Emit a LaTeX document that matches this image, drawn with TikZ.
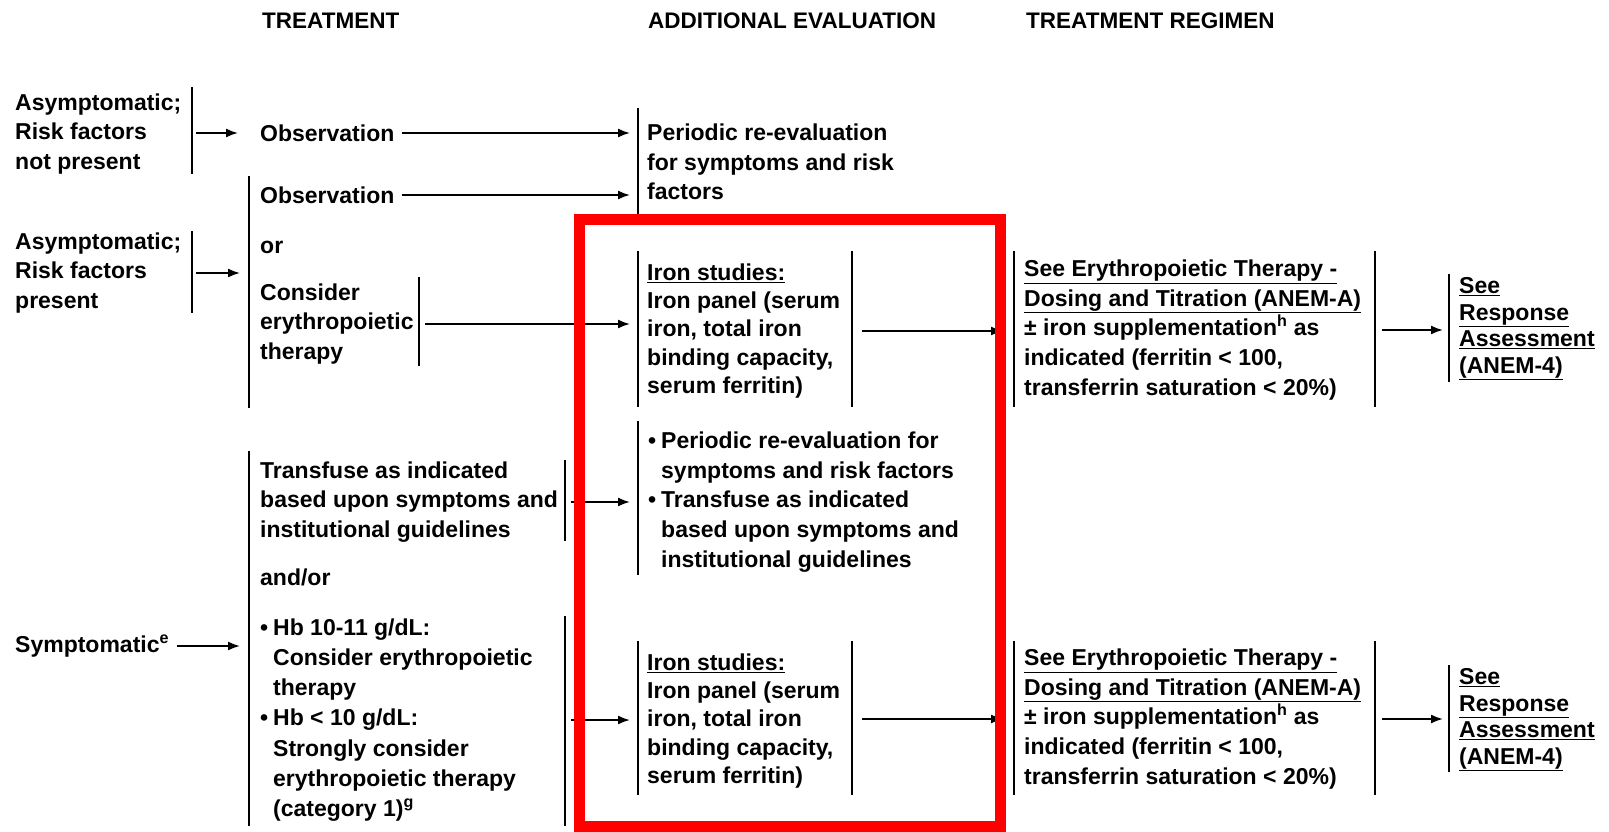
\documentclass[tikz,border=0pt]{standalone}
\usepackage{fontspec}
\setmainfont{Liberation Sans}
\usetikzlibrary{arrows.meta}
\begin{document}
\begin{tikzpicture}[x=1pt,y=-1pt,
  txt/.style={anchor=west,inner sep=0pt,align=left,font=\fontsize{23}{29.6}\selectfont\bfseries},
  wide/.style={txt,font=\fontsize{23}{30.2}\selectfont\bfseries},
  tight/.style={txt,font=\fontsize{23}{28.2}\selectfont\bfseries},
  seebox/.style={txt,font=\fontsize{23}{26.5}\selectfont\bfseries},
  hdr/.style={anchor=west,inner sep=0pt,font=\fontsize{22.5}{26}\selectfont\bfseries},
  brk/.style={line width=2pt},
  arr/.style={line width=1.8pt,-{Latex[length=12pt,width=9pt]}},
  redbox/.style={draw={rgb,255:red,255;green,0;blue,0},line width=11pt}]
\useasboundingbox (0,0) rectangle (1609,832);
\newcommand{\bl}{\makebox[13pt][l]{\textbullet}}
\newcommand{\ind}{\hspace*{13pt}}

% headers
\node[hdr] (h1) at (262,21) {TREATMENT};
\node[hdr] (h2) at (648,21) {ADDITIONAL EVALUATION};
\node[hdr] (h3) at (1026,21) {TREATMENT REGIMEN};

% text nodes
\node[txt] (a1) at (15,134) {Asymptomatic;\\Risk factors\\not present};
\node[txt] (obs1) at (260,133) {Observation};
\node[txt] (per) at (647,162) {Periodic re-evaluation\\for symptoms and risk\\factors};
\node[txt] (a2) at (15,273) {Asymptomatic;\\Risk factors\\present};
\node[txt] (obs2) at (260,195) {Observation};
\node[txt] (or) at (260,247) {or};
\node[txt] (cons) at (260,324) {Consider\\erythropoietic\\therapy};
\node[tight] (iron1) at (647,331) {\underline{Iron studies:}\\Iron panel (serum\\iron, total iron\\binding capacity,\\serum ferritin)};
\node[txt] (epo1) at (1024,330) {\underline{See Erythropoietic Therapy -}\\\underline{Dosing and Titration (ANEM-A)}\\± iron supplementation\textsuperscript{h} as\\indicated (ferritin < 100,\\transferrin saturation < 20\%)};
\node[seebox] (see1) at (1459,329) {\underline{See}\\\underline{Response}\\\underline{Assessment}\\\underline{(ANEM-4)}};

\node[txt] (trans) at (260,502) {Transfuse as indicated\\based upon symptoms and\\institutional guidelines};
\node[txt] (andor) at (260,577) {and/or};
\node[wide] (hb) at (260,720) {\bl Hb 10-11 g/dL:\\\ind Consider erythropoietic\\\ind therapy\\\bl Hb < 10 g/dL:\\\ind Strongly consider\\\ind erythropoietic therapy\\\ind (category 1)\textsuperscript{g}};
\node[txt] (symp) at (15,646) {Symptomatic\textsuperscript{e}};
\node[txt] (mid) at (648,502) {\bl Periodic re-evaluation for\\\ind symptoms and risk factors\\\bl Transfuse as indicated\\\ind based upon symptoms and\\\ind institutional guidelines};
\node[tight] (iron2) at (647,721) {\underline{Iron studies:}\\Iron panel (serum\\iron, total iron\\binding capacity,\\serum ferritin)};
\node[txt] (epo2) at (1024,719) {\underline{See Erythropoietic Therapy -}\\\underline{Dosing and Titration (ANEM-A)}\\± iron supplementation\textsuperscript{h} as\\indicated (ferritin < 100,\\transferrin saturation < 20\%)};
\node[seebox] (see2) at (1459,720) {\underline{See}\\\underline{Response}\\\underline{Assessment}\\\underline{(ANEM-4)}};

% bracket coordinates
\coordinate (a1T) at (192,87);   \coordinate (a1B) at (192,174);
\coordinate (a2T) at (192,231);  \coordinate (a2B) at (192,313);
\coordinate (big1T) at (249,176); \coordinate (big1B) at (249,408);
\coordinate (consT) at (419,277); \coordinate (consB) at (419,366);
\coordinate (perT) at (638,108); \coordinate (perB) at (638,216);
\coordinate (ir1LT) at (638,251); \coordinate (ir1LB) at (638,407);
\coordinate (ir1RT) at (852,251); \coordinate (ir1RB) at (852,407);
\coordinate (ep1LT) at (1014,251); \coordinate (ep1LB) at (1014,407);
\coordinate (ep1RT) at (1375,251); \coordinate (ep1RB) at (1375,407);
\coordinate (se1T) at (1449,274); \coordinate (se1B) at (1449,382);
\coordinate (midT) at (638,421); \coordinate (midB) at (638,575);
\coordinate (trT) at (565,460); \coordinate (trB) at (565,541);
\coordinate (big2T) at (249,451); \coordinate (big2B) at (249,826);
\coordinate (hbT) at (565,616); \coordinate (hbB) at (565,826);
\coordinate (ir2LT) at (638,641); \coordinate (ir2LB) at (638,795);
\coordinate (ir2RT) at (852,641); \coordinate (ir2RB) at (852,795);
\coordinate (ep2LT) at (1014,641); \coordinate (ep2LB) at (1014,795);
\coordinate (ep2RT) at (1375,641); \coordinate (ep2RB) at (1375,795);
\coordinate (se2T) at (1449,665); \coordinate (se2B) at (1449,772);

\foreach \b in {a1,a2,big1,cons,per,ir1L,ir1R,ep1L,ep1R,se1,mid,tr,big2,hb,ir2L,ir2R,ep2L,ep2R,se2}
  \draw[brk] (\b T) -- (\b B);

% arrows
\draw[arr] ([xshift=4pt]a1T |- obs1.west) -- ([xshift=-22pt]obs1.west);
\draw[arr] ([xshift=7pt]obs1.east) -- ([xshift=-8pt]perT |- obs1.east);
\draw[arr] ([xshift=7pt]obs2.east) -- ([xshift=-8pt]perT |- obs2.east);
\draw[arr] ([xshift=4pt]a2T |- a2.west) -- ([xshift=-9pt]big1T |- a2.west);
\draw[arr] ([xshift=6pt]consT |- cons.east) -- ([xshift=-8pt]ir1LT |- cons.east);
\draw[arr] ([xshift=10pt]ir1RT |- iron1.east) -- ([xshift=-11pt]ep1LT |- iron1.east);
\draw[arr] ([xshift=7pt]ep1RT |- epo1.east) -- ([xshift=-6pt]se1T |- epo1.east);
\draw[arr] ([xshift=6pt]trT |- trans.east) -- ([xshift=-8pt]midT |- trans.east);
\draw[arr] ([xshift=8pt]symp.east) -- ([xshift=-9pt]big2T |- symp.east);
\draw[arr] ([xshift=6pt]hbT |- hb.east) -- ([xshift=-8pt]ir2LT |- hb.east);
\draw[arr] ([xshift=10pt]ir2RT |- epo2.east) -- ([xshift=-11pt]ep2LT |- epo2.east);
\draw[arr] ([xshift=7pt]ep2RT |- epo2.east) -- ([xshift=-6pt]se2T |- epo2.east);

% red highlight box
\draw[redbox] (579,219) rectangle (1000,826);
\end{tikzpicture}
\end{document}
